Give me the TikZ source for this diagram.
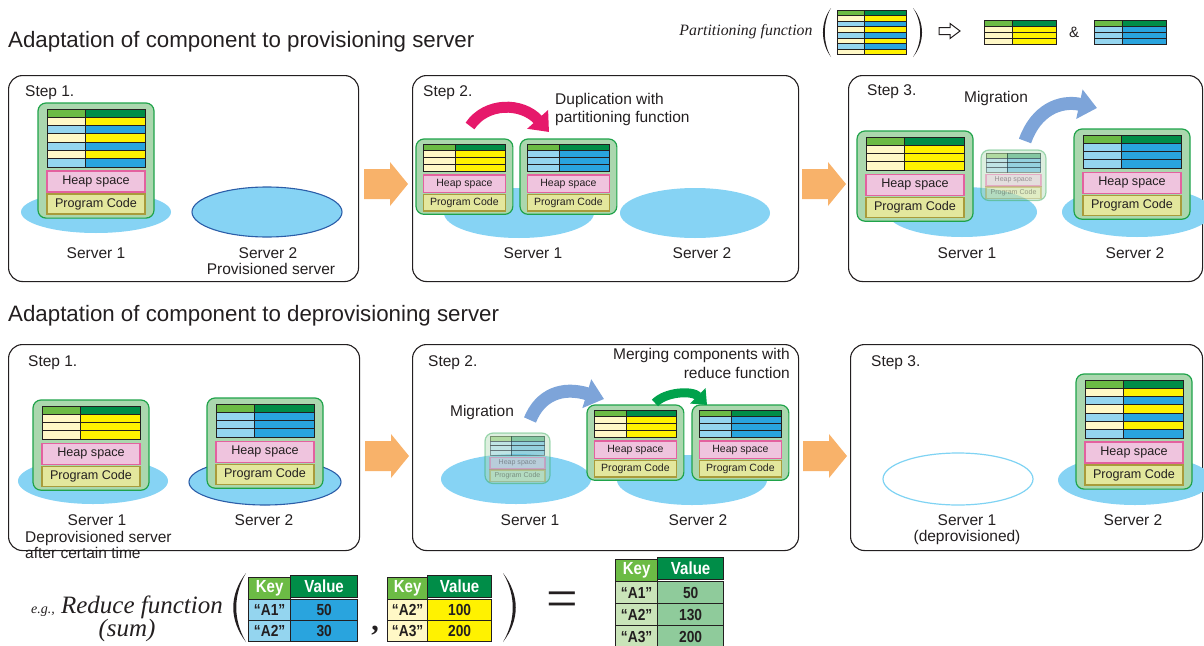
\documentclass[tikz,border=0pt]{standalone}
\usepackage{fontspec}
\setmainfont{Liberation Sans}
\newfontfamily\serifit{Liberation Serif}
\newfontfamily\tabfont{Liberation Sans}[FakeStretch=0.86]
\usetikzlibrary{shapes.geometric, matrix, arrows.meta, positioning}
\definecolor{ink}{HTML}{231F20}
\definecolor{serverc}{HTML}{86D3F4}
\definecolor{rimc}{HTML}{2B5DA8}
\definecolor{hollowc}{HTML}{7FD3F3}
\definecolor{compfill}{HTML}{ABD7AE}
\definecolor{compline}{HTML}{1FA34A}
\definecolor{keyh}{HTML}{6CBB45}
\definecolor{valh}{HTML}{008D48}
\definecolor{keyy}{HTML}{FFF8C6}
\definecolor{valy}{HTML}{FFF200}
\definecolor{keyb}{HTML}{94D5EF}
\definecolor{valb}{HTML}{29A4DE}
\definecolor{keyg}{HTML}{C9E4B9}
\definecolor{valg}{HTML}{8FCB9B}
\definecolor{heapfill}{HTML}{EFC4DE}
\definecolor{heapline}{HTML}{E3619F}
\definecolor{codefill}{HTML}{E3E79D}
\definecolor{codeline}{HTML}{A99B3B}
\definecolor{flowc}{HTML}{F8B26A}
\definecolor{dupc}{HTML}{E6196B}
\definecolor{migc}{HTML}{7DA4D9}
\definecolor{greenc}{HTML}{00A24C}
\newcommand{\lblfont}{\fontsize{15.5pt}{18pt}\selectfont}
\newcommand{\lHeap}{Heap space}
\newcommand{\lCode}{Program Code}
\newcommand{\lServerA}{Server 1}
\newcommand{\lServerB}{Server 2}
\newcommand{\lMigration}{Migration}
\newcommand{\lProvTitle}{Adaptation of component to provisioning server}
\newcommand{\lDeprovTitle}{Adaptation of component to deprovisioning server}
\newcommand{\lDup}{Duplication with\\partitioning function}
\newcommand{\lMerge}{Merging components with\\reduce function}
\begin{document}
\begin{tikzpicture} [
        x=1pt, y=-1pt,
        stage box/.style={draw=ink, line width=1.1pt, rounded corners=14pt, anchor=north west, minimum height=206pt, inner sep=0},
        server/.style={ellipse, fill=serverc, inner sep=0, minimum width=150pt},
        server rim/.style={draw=rimc, line width=1.1pt},
        section title/.style={anchor=west, inner sep=0, text=ink, font=\fontsize{22.3pt}{26pt}\selectfont},
        stage label/.style={anchor=west, inner sep=0, text=ink, font=\lblfont},
        server label/.style={text=ink, font=\lblfont},
        comp box/.style={draw=compline, fill=compfill, line width=1.2pt, rounded corners=8pt},
        grid cell/.style={draw=ink, line width=0.9pt},
        heap box/.style={draw=heapline, fill=heapfill, line width=1.3pt, minimum width=98pt, minimum height=21pt, inner sep=0, transform shape, text=ink, font=\fontsize{12.6pt}{14pt}\selectfont},
        code box/.style={heap box, draw=codeline, fill=codefill, minimum height=20pt},
        bend arrow/.style={draw=#1, line width=13pt, -{Triangle[length=18pt, width=29pt]}},
        kv table/.style={matrix of nodes, anchor=north west, inner sep=0, column sep=-0.9pt, row sep=-0.9pt,
            nodes={draw=ink, line width=0.9pt, inner sep=0, minimum height=21pt, text=ink, font=\tabfont\bfseries\fontsize{16pt}{16pt}\selectfont},
            row 1/.style={nodes={minimum height=22pt, text=white, font=\tabfont\bfseries\fontsize{17.5pt}{17pt}\selectfont}}},
        kh/.style={fill=keyh}, vh/.style={fill=valh},
        kb/.style={fill=keyb}, vb/.style={fill=valb},
        ky/.style={fill=keyy}, vy/.style={fill=valy},
        kg/.style={fill=keyg}, vg/.style={fill=valg},
        pics/cells/.style n args={4}{code={
            \foreach \kind [count=\row from 0] in {h,#4} {
                \draw[grid cell, fill=key\kind] (0,\row*#3) rectangle (#2,\row*#3+#3);
                \draw[grid cell, fill=val\kind] (#2,\row*#3) rectangle (#1,\row*#3+#3);
            }
        }},
        pics/component/.style n args={2}{code={
            \pgfmathsetmacro\compbottom{14.3+8.3*#2}
            \draw[comp box] (0,0) rectangle (116,\compbottom+51);
            \pic[transform shape] at (9,6) {cells={98}{38}{8.3}{#1}};
            \node[heap box] (heap) at (58,\compbottom+14.5) {\lHeap};
            \node[code box] (code) at (58,\compbottom+37) {\lCode};
        }},
        pics/flow/.style={code={
            \fill[flowc] (0,-15) -- (26,-15) -- (26,-22) -- (44,0) -- (26,22) -- (26,15) -- (0,15) -- cycle;
        }},
        pics/hollow arrow/.style={code={
            \draw[ink, line width=1pt] (0,-3.5) -- (11,-3.5) -- (11,-7.5) -- (21,0) -- (11,7.5) -- (11,3.5) -- (0,3.5) -- cycle;
        }}
    ]

    \useasboundingbox (0,0) rectangle (1204,645);

    % partitioning legend
    \path (816,32) node[anchor=east, text=ink, font=\serifit\itshape\fontsize{15.8pt}{16pt}\selectfont] (part label) {Partitioning function};
    \fill[ink] (831,8) .. controls (820.3,22) and (820.3,43) .. (831,57) .. controls (822.7,43) and (822.7,22) .. cycle;
    \pic (legend full) at (837,10) {cells={69}{27}{5.6}{y,b,y,b,y,b,y}};
    \fill[ink] (913,8) .. controls (925,22) and (925,43) .. (913,57) .. controls (922.6,43) and (922.6,22) .. cycle;
    \pic (legend arrow) at (939,31) {hollow arrow};
    \pic (legend yellow) at (984,20) {cells={72}{28}{6}{y,y,y}};
    \path (1074,32) node[text=ink, font=\fontsize{15pt}{15pt}\selectfont] (legend and) {\&};
    \pic (legend blue) at (1094,20) {cells={72}{28}{6}{b,b,b}};

    \path (8,42) node[section title] (prov title) {\lProvTitle};
    \path (8,316) node[section title] (deprov title) {\lDeprovTitle};

    \path (8,75) node[stage box, minimum width=350pt] (prov one) {};
    \path (412,75) node[stage box, minimum width=386pt] (prov two) {};
    \path (848,75) node[stage box, minimum width=354pt] (prov three) {};
    \path (8,344) node[stage box, minimum width=351pt] (deprov one) {};
    \path (412,344) node[stage box, minimum width=386pt] (deprov two) {};
    \path (850,344) node[stage box, minimum width=352pt] (deprov three) {};

    \pic (flow t12) at (364,184) {flow};
    \pic (flow t23) at (802,184) {flow};
    \pic (flow b12) at (365,456) {flow};
    \pic (flow b23) at (803,456) {flow};

    % provisioning, step 1
    \path (25,93) node[stage label] (t1 step) {Step 1.};
    \node[server, minimum height=42pt] (t1 srv1) at (96,212) {};
    \node[server, server rim, minimum height=50pt] (t1 srv2) at (267,212) {};
    \pic (t1 comp) at (38,103) {component={y,b,y,b,y,b}{6}};
    \path (96,253) node[server label] (t1 srv1 label) {\lServerA};
    \path (268,253) node[server label] (t1 srv2 label) {\lServerB};
    \path (271,269) node[server label] (t1 srv2 note) {Provisioned server};

    % provisioning, step 2
    \path (423,93) node[stage label] (t2 step) {Step 2.};
    \node[server, minimum height=50pt] (t2 srv1) at (519,213) {};
    \node[server, minimum height=50pt] (t2 srv2) at (695,213) {};
    \pic[scale=0.835] (t2 left) at (416,139) {component={y,y,y}{3}};
    \pic[scale=0.835] (t2 right) at (520,139) {component={b,b,b}{3}};
    \coordinate (dup tail) at (470,126);
    \coordinate (dup tip) at (549,132);
    \draw[bend arrow=dupc, line width=11pt, -{Triangle[length=17pt, width=27pt]}] (dup tail) .. controls (486,102) and (522,102) .. (dup tip);
    \path (555,109) node[stage label, align=left] (t2 dup) {\lDup};
    \path (533,253) node[server label] (t2 srv1 label) {\lServerA};
    \path (702,253) node[server label] (t2 srv2 label) {\lServerB};

    % provisioning, step 3
    \path (867,92) node[stage label] (t3 step) {Step 3.};
    \node[server, minimum height=50pt] (t3 srv1) at (962,212) {};
    \node[server, minimum height=50pt] (t3 srv2) at (1137,212) {};
    \pic (t3 left) at (857,131) {component={y,y,y}{3}};
    \pic[scale=0.56, opacity=0.4] (t3 ghost) at (981,150) {component={b,b,b}{3}};
    \pic (t3 right) at (1074,129) {component={b,b,b}{3}};
    \coordinate (t3 mig tail) at (1025,141);
    \coordinate (t3 mig tip) at (1097,108);
    \draw[bend arrow=migc] (t3 mig tail) .. controls (1036,110) and (1060,100) .. (t3 mig tip);
    \path (996,98) node[server label] (t3 mig label) {\lMigration};
    \path (967,253) node[server label] (t3 srv1 label) {\lServerA};
    \path (1135,253) node[server label] (t3 srv2 label) {\lServerB};

    % deprovisioning, step 1
    \path (28,363) node[stage label] (b1 step) {Step 1.};
    \node[server, minimum height=46pt] (b1 srv1) at (93,481) {};
    \node[server, server rim, minimum height=46pt, minimum width=152pt] (b1 srv2) at (265,482) {};
    \pic (b1 left) at (33,400) {component={y,y,y}{3}};
    \pic (b1 right) at (207,398) {component={b,b,b}{3}};
    \path (97,520) node[server label] (b1 srv1 label) {\lServerA};
    \path (264,520) node[server label] (b1 srv2 label) {\lServerB};
    \path (25,545) node[stage label, align=left, font=\fontsize{15.5pt}{16pt}\selectfont] (b1 srv1 note) {Deprovisioned server\\after certain time};

    % deprovisioning, step 2
    \path (428,363) node[stage label] (b2 step) {Step 2.};
    \node[server, minimum height=50pt] (b2 srv1) at (516,479) {};
    \node[server, minimum height=50pt] (b2 srv2) at (692,480) {};
    \pic[scale=0.56, opacity=0.4] (b2 ghost) at (485,433) {component={b,b,b}{3}};
    \pic[scale=0.835] (b2 left) at (587,405) {component={y,y,y}{3}};
    \pic[scale=0.835] (b2 right) at (692,405) {component={b,b,b}{3}};
    \coordinate (b2 mig tail) at (530,420);
    \coordinate (b2 mig tip) at (604,399);
    \draw[bend arrow=migc] (b2 mig tail) .. controls (540,395) and (562,386) .. (b2 mig tip);
    \coordinate (merge tail) at (655,403);
    \coordinate (merge tip) at (707,405);
    \draw[bend arrow=greenc, line width=9pt, -{Triangle[length=13pt, width=21pt]}] (merge tail) .. controls (665,392) and (692,390) .. (merge tip);
    \path (482,412) node[server label] (b2 mig label) {\lMigration};
    \path (790,363) node[server label, anchor=east, inner sep=0, align=right, font=\fontsize{15.5pt}{19pt}\selectfont] (b2 merge label) {\lMerge};
    \path (530,520) node[server label] (b2 srv1 label) {\lServerA};
    \path (698,520) node[server label] (b2 srv2 label) {\lServerB};

    % deprovisioning, step 3
    \path (871,363) node[stage label] (b3 step) {Step 3.};
    \node[ellipse, draw=hollowc, line width=1.2pt, inner sep=0, minimum width=150pt, minimum height=52pt] (b3 srv1) at (958,479) {};
    \node[server, minimum height=50pt, minimum width=154pt] (b3 srv2) at (1135,480) {};
    \pic (b3 comp) at (1076,374) {component={y,b,y,b,y,b}{6}};
    \path (967,520) node[server label] (b3 srv1 label) {\lServerA};
    \path (967,537) node[server label] (b3 srv1 note) {(deprovisioned)};
    \path (1133,520) node[server label] (b3 srv2 label) {\lServerB};

    % reduce function example
    \path (127,619) node[align=center, text=ink, font=\serifit\itshape\fontsize{25pt}{22pt}\selectfont] (reduce label) {{\fontsize{14pt}{14pt}\selectfont e.g.,} Reduce function\\(sum)};
    \fill[ink] (246,573) .. controls (229,595) and (229,620) .. (246,642) .. controls (233,620) and (233,595) .. cycle;
    \matrix[kv table, column 1/.style={nodes={minimum width=42pt}}, column 2/.style={nodes={minimum width=67pt}}] (sum left) at (248,575) {
        |[kh]| Key & |[vh]| Value \\
        |[kb]| “A1” & |[vb]| 50 \\
        |[kb]| “A2” & |[vb]| 30 \\
    };
    \path (375,630) node[anchor=base, text=ink, font=\serifit\bfseries\fontsize{30pt}{30pt}\selectfont] (sum comma) {,};
    \matrix[kv table, column 1/.style={nodes={minimum width=40pt}}, column 2/.style={nodes={minimum width=64pt}}] (sum right) at (387,575) {
        |[kh]| Key & |[vh]| Value \\
        |[ky]| “A2” & |[vy]| 100 \\
        |[ky]| “A3” & |[vy]| 200 \\
    };
    \fill[ink] (503,573) .. controls (520,595) and (520,620) .. (503,642) .. controls (516,620) and (516,595) .. cycle;
    \path (562,605) node[text=ink, font=\serifit\fontsize{56pt}{56pt}\selectfont] (sum equals) {=};
    \matrix[kv table, column 1/.style={nodes={minimum width=42pt}}, column 2/.style={nodes={minimum width=66pt}}, row 2/.style={nodes={minimum height=22pt}}, row 3/.style={nodes={minimum height=22pt}}, row 4/.style={nodes={minimum height=22pt}}] (sum result) at (615,557) {
        |[kh]| Key & |[vh]| Value \\
        |[kg]| “A1” & |[vg]| 50 \\
        |[kg]| “A2” & |[vg]| 130 \\
        |[kg]| “A3” & |[vg]| 200 \\
    };

\end{tikzpicture}
\end{document}
